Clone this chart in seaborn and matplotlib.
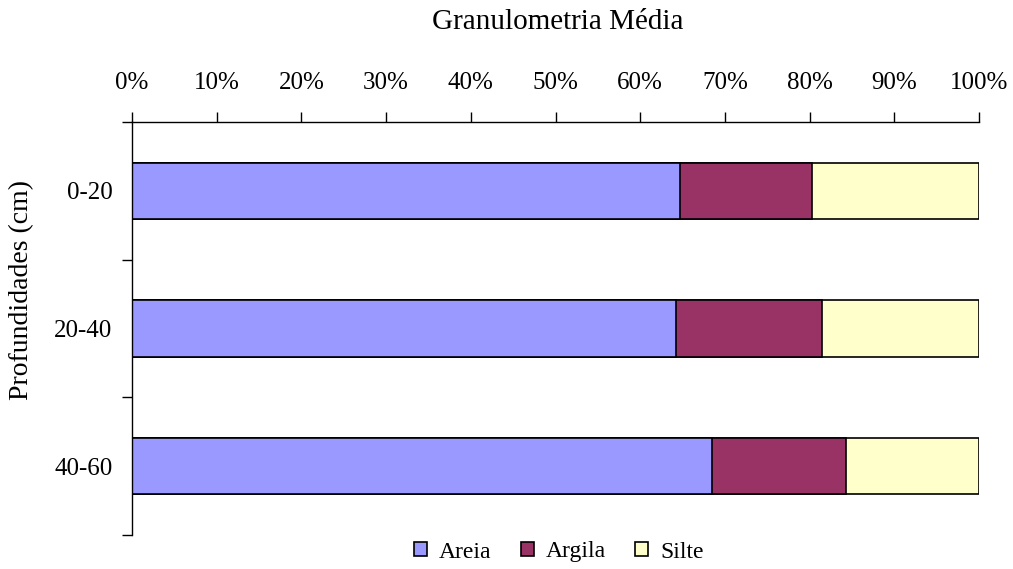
import numpy as np
import pandas as pd
import matplotlib.pyplot as plt
import seaborn as sns
from matplotlib.patches import Patch

profundidades = ["0-20", "20-40", "40-60"]
areia = [64.7, 64.2, 68.5]
argila = [15.6, 17.3, 15.8]
silte = [19.7, 18.5, 15.7]

cores = {"Areia": "#9999FF", "Argila": "#993366", "Silte": "#FFFFCC"}

df = pd.DataFrame({"prof": profundidades, "Areia": areia, "Argila": argila, "Silte": silte})
# cumulative sums so the layers can be drawn back to front
df["Argila_cum"] = df["Areia"] + df["Argila"]
df["Silte_cum"] = df["Argila_cum"] + df["Silte"]

sns.set_style("white")
plt.rcParams['font.family'] = ['Liberation Serif', 'DejaVu Serif']
plt.rcParams['text.color'] = 'black'

fig = plt.figure(figsize=(10.13, 5.69), dpi=100)
ax = fig.add_axes([132/1013, 1-535/569, (979-132)/1013, (535-122)/569])

largura = 0.41
for col, nome in [("Silte_cum", "Silte"), ("Argila_cum", "Argila"), ("Areia", "Areia")]:
    sns.barplot(data=df, x=col, y="prof", orient="h", color=cores[nome], width=largura,
                edgecolor="black", linewidth=1.2, saturation=1, ax=ax)

ax.set_xlim(0, 100)
ax.set_ylim(2.5, -0.5)
ax.xaxis.tick_top()
ax.set_xticks(np.arange(0, 101, 10))
ax.set_xticklabels([f"{v}%" for v in range(0, 101, 10)])
ax.tick_params(axis="x", top=True, direction="out", length=7, width=1, pad=13, labelsize=18,
               colors="black", labelcolor="black")
ax.set_yticks([0, 1, 2])
ax.set_yticklabels(profundidades)
ax.set_yticks([-0.5, 0.5, 1.5, 2.5], minor=True)
ax.tick_params(axis="y", which="major", length=0, pad=14, labelsize=18, labelcolor="black")
ax.tick_params(axis="y", which="minor", left=True, direction="out", length=7, width=1, colors="black")

for s in ["right", "bottom"]:
    ax.spines[s].set_visible(False)
for s in ["left", "top"]:
    ax.spines[s].set_color("black")
    ax.spines[s].set_linewidth(1)

ax.set_xlabel("")
ax.set_ylabel("Profundidades (cm)", fontsize=20, color="black")
ax.yaxis.set_label_coords(-0.116, 0.593)
fig.text(558/1013, 1-22/569, "Granulometria Média", ha="center", va="center", fontsize=21, color="black")

handles = [Patch(facecolor=cores[n], edgecolor="black", linewidth=1.2, label=n) for n in ["Areia", "Argila", "Silte"]]
leg = fig.legend(handles=handles, loc="center", bbox_to_anchor=(559/1013, 1-552/569), ncol=3, frameon=False,
                 fontsize=17, handlelength=0.55, handleheight=0.55, handletextpad=0.5, columnspacing=1.25)
for t in leg.get_texts():
    t.set_color("black")

plt.savefig("out.png", dpi=100)
